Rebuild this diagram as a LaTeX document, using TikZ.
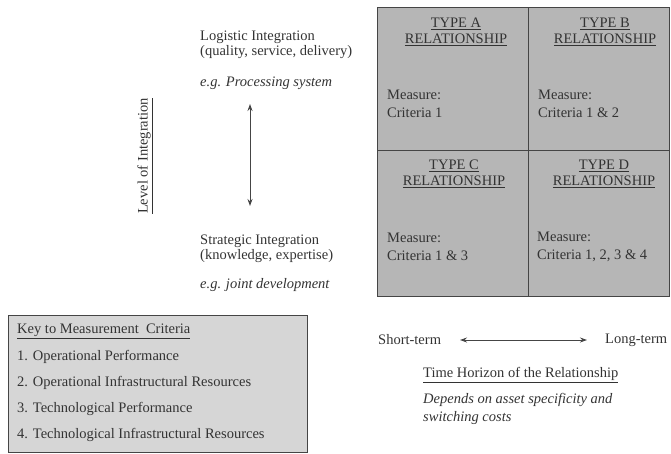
\documentclass[tikz,border=0pt]{standalone}
\usepackage{fontspec}
\setmainfont{Liberation Serif}
\usetikzlibrary{arrows.meta}
\definecolor{ink}{HTML}{333333}
\definecolor{cellgray}{HTML}{B6B6B6}
\definecolor{keygray}{HTML}{D6D6D6}
\definecolor{edge}{HTML}{454545}
\begin{document}
\begin{tikzpicture}[x=1pt,y=-1pt,
  every node/.style={text=ink, inner sep=0pt, font=\fontsize{14.5}{16}\selectfont},
  cell/.style={draw=edge, line width=0.9pt, fill=cellgray, minimum width=#1},
  celltitle/.style={align=center},
  measure/.style={anchor=west, align=left, font=\fontsize{14.5}{18.5}\selectfont},
  plain/.style={anchor=west, align=left, font=\fontsize{14.5}{15.5}\selectfont},
  example/.style={anchor=west, font=\fontsize{14.5}{16}\selectfont\itshape},
  keybox/.style={draw=edge, line width=0.8pt, fill=keygray},
  twoway/.style={draw=edge, line width=0.9pt, {Stealth[length=7pt,width=5pt]}-{Stealth[length=7pt,width=5pt]}}
]
\useasboundingbox (0,0) rectangle (671,453);

% relationship matrix
\node[cell=151pt, minimum height=143pt] (cA) at (452.5,78.5) {};
\node[cell=141pt, minimum height=143pt] (cB) at (598.5,78.5) {};
\node[cell=151pt, minimum height=146pt] (cC) at (452.5,223) {};
\node[cell=141pt, minimum height=146pt] (cD) at (598.5,223) {};

\node[celltitle] (tA) at (456,32) {\underline{TYPE A}\\\underline{RELATIONSHIP}};
\node[celltitle] (tB) at (605,32) {\underline{TYPE B}\\\underline{RELATIONSHIP}};
\node[celltitle] (tC) at (454,174) {\underline{TYPE C}\\\underline{RELATIONSHIP}};
\node[celltitle] (tD) at (604,174) {\underline{TYPE D}\\\underline{RELATIONSHIP}};

\node[measure] (mA) at (387,104) {Measure:\\Criteria 1};
\node[measure] (mB) at (538,104) {Measure:\\Criteria 1 \& 2};
\node[measure] (mC) at (387,247) {Measure:\\Criteria 1 \& 3};
\node[measure] (mD) at (537,247) {Measure:\\Criteria 1, 2, 3 \& 4};

% level of integration axis
\node[plain] (logi) at (200,45) {Logistic Integration\\(quality, service, delivery)};
\node[example] (logieg) at (200,83) {e.g. Processing system};
\node[plain] (strat) at (200,249) {Strategic Integration\\(knowledge, expertise)};
\node[example] (strateg) at (200,285) {e.g. joint development};
\coordinate (upper) at (250,104);
\coordinate (lower) at (250,206);
\draw[twoway] (upper) -- (lower);
\node[rotate=90] (level) at (145,156) {\underline{Level of Integration}};

% key to criteria
\node[keybox, minimum width=299pt, minimum height=137pt] (key) at (157.5,383.5) {};
\node[plain] (k0) at (17,331) {\underline{Key to Measurement\ \ Criteria}};
\node[plain] (k1) at (17,357) {1. Operational Performance};
\node[plain] (k2) at (17,383) {2. Operational Infrastructural Resources};
\node[plain] (k3) at (17,409) {3. Technological Performance};
\node[plain] (k4) at (17,435) {4. Technological Infrastructural Resources};

% time horizon axis
\node[plain] (short) at (378,340) {Short-term};
\node[plain] (long) at (605,340) {Long-term};
\coordinate (left) at (460,340);
\coordinate (right) at (587,340);
\draw[twoway] (left) -- (right);
\node[plain] (horizon) at (423,375) {\underline{Time Horizon of the Relationship}};
\node[plain, font=\fontsize{14.5}{18.5}\selectfont\itshape] (depends) at (423,409) {Depends on asset specificity and\\switching costs};
\end{tikzpicture}
\end{document}
